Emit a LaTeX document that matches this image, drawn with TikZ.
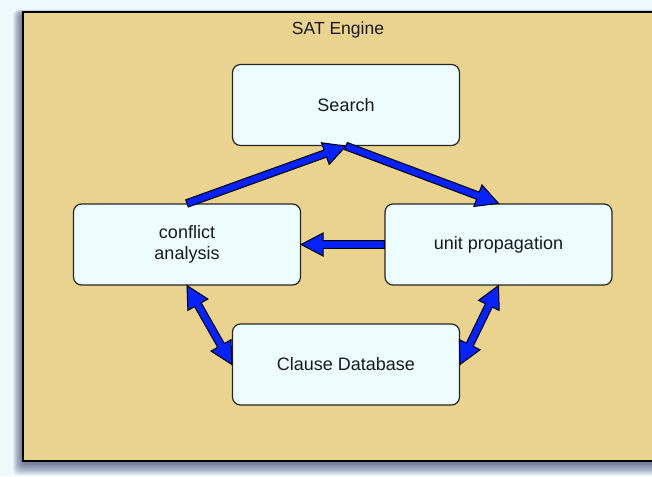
\documentclass[tikz,border=0pt]{standalone}
\usepackage{fontspec}
\setmainfont{Liberation Sans}
\usetikzlibrary{calc}

\definecolor{pagebg}{RGB}{238,249,254}
\definecolor{enginefill}{RGB}{234,211,142}
\definecolor{boxfill}{RGB}{236,252,255}
\definecolor{flowblue}{RGB}{6,34,255}
\definecolor{inktext}{RGB}{25,25,25}
\definecolor{shadowink}{RGB}{40,52,95}

% arrow geometry: shaft half-width, head half-width, head length
\def\shw{3.8pt}
\def\hdw{11.5pt}
\def\hdl{22pt}

% wide outlined arrow from #1 to #2
\newcommand\fatarrow[2]{%
  \path (#1) coordinate (fa-s) (#2) coordinate (fa-e);
  \path ($(fa-e)!\hdl!(fa-s)$) coordinate (fa-h);
  \draw[arrowbody] ($(fa-s)!\shw!90:(fa-e)$)
    -- ($(fa-h)!\shw!-90:(fa-s)$) -- ($(fa-h)!\hdw!-90:(fa-s)$)
    -- (fa-e)
    -- ($(fa-h)!\hdw!90:(fa-s)$) -- ($(fa-h)!\shw!90:(fa-s)$)
    -- ($(fa-s)!\shw!-90:(fa-e)$) -- cycle;
}
% wide outlined arrow with heads at both ends
\newcommand\fatdarrow[2]{%
  \path (#1) coordinate (fa-s) (#2) coordinate (fa-e);
  \path ($(fa-e)!\hdl!(fa-s)$) coordinate (fa-h)
        ($(fa-s)!\hdl!(fa-e)$) coordinate (fa-g);
  \draw[arrowbody] (fa-s)
    -- ($(fa-g)!\hdw!90:(fa-e)$) -- ($(fa-g)!\shw!90:(fa-e)$)
    -- ($(fa-h)!\shw!-90:(fa-s)$) -- ($(fa-h)!\hdw!-90:(fa-s)$)
    -- (fa-e)
    -- ($(fa-h)!\hdw!90:(fa-s)$) -- ($(fa-h)!\shw!90:(fa-s)$)
    -- ($(fa-g)!\shw!-90:(fa-e)$) -- ($(fa-g)!\hdw!-90:(fa-e)$)
    -- cycle;
}

\tikzset{
  enginebox/.style={fill=enginefill, draw=black, line width=1.5pt},
  shadowlayer/.style={fill=shadowink, fill opacity=0.07, rounded corners=6pt},
  stagebox/.style={draw=black!85, fill=boxfill, line width=1.2pt,
    rounded corners=8pt, minimum width=227pt, minimum height=81pt,
    inner sep=0pt, align=center, text=inktext,
    font=\fontsize{18}{21.5}\selectfont},
  titletext/.style={text=inktext, font=\fontsize{17.5}{21}\selectfont},
  arrowbody/.style={fill=flowblue, draw=black, line width=1pt,
    line join=miter}
}

\begin{document}
\begin{tikzpicture}[x=1pt, y=-1pt]
  \useasboundingbox (0,0) rectangle (652,476);
  \fill[pagebg] (0,0) rectangle (652,476);
  \clip (0,0) rectangle (652,476);

  % soft drop shadow under the engine frame
  \foreach \i in {0,...,11}
    \fill[shadowlayer] ({13+0.8*\i},{10+0.25*\i}) rectangle (680,{475-\i});

  % engine frame
  \draw[enginebox] (23,12) rectangle (662,461);
  \node[titletext] (title) at (338,30) {SAT Engine};

  % stages
  \node[stagebox] (search)   at (346,105)   {Search};
  \node[stagebox] (conflict) at (187,244.5) {conflict\\analysis};
  \node[stagebox] (unit)     at (498.5,244.5) {unit propagation};
  \node[stagebox] (clause)   at (346,364.5) {Clause Database};

  % flow between stages
  \fatarrow{conflict.north}{search.south}
  \fatarrow{search.south}{unit.north}
  \fatarrow{unit.west}{conflict.east}
  \fatdarrow{conflict.south}{clause.west}
  \fatdarrow{unit.south}{clause.east}
\end{tikzpicture}
\end{document}
